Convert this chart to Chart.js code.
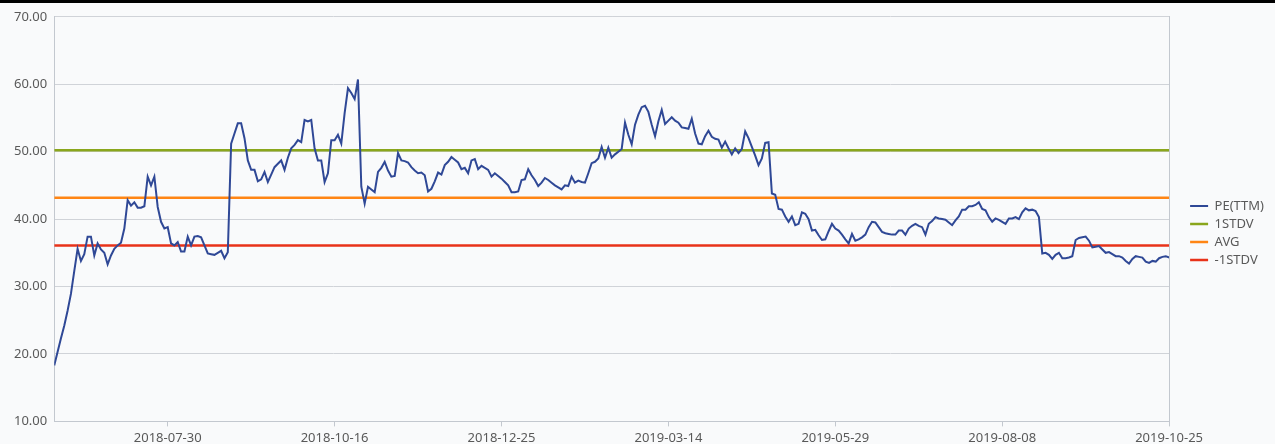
<!DOCTYPE html>
<html>
<head>
<meta charset="utf-8">
<script src="https://cdn.jsdelivr.net/npm/chart.js@4.4.1/dist/chart.umd.min.js"></script>
<style>
  html, body { margin: 0; padding: 0; background: #f9fafb; overflow: hidden; }
  #wrap { position: relative; width: 1275px; height: 444px; overflow: hidden; }
  #myChart { display: block; margin-top: 2px; }
  #topbar { position: absolute; left: 0; top: 0; width: 1275px; height: 3px; background: #000; }
</style>
</head>
<body>
<div id="wrap">
  <canvas id="myChart" width="1275" height="448"></canvas>
  <div id="topbar"></div>
</div>
<script>
// PE(TTM), one value per trading day, 2018-06-11 .. 2019-10-25
const peTTM = [
  18.3, 20.3, 22.3, 24.2, 26.4, 28.9, 32.3, 35.6, 33.8, 34.8, 37.4, 37.4, 34.6, 36.4, 35.5, 35.0, 33.3, 34.6, 35.6, 36.1,
  36.5, 38.6, 42.8, 42.0, 42.5, 41.7, 41.7, 41.9, 46.3, 45.0, 46.3, 41.8, 39.6, 38.6, 38.8, 36.4, 36.1, 36.6, 35.2, 35.2,
  37.4, 36.1, 37.4, 37.5, 37.3, 36.1, 34.9, 34.8, 34.7, 35.0, 35.3, 34.2, 35.1, 51.2, 52.7, 54.2, 54.2, 52.0, 48.7, 47.3,
  47.3, 45.6, 45.9, 47.0, 45.5, 46.6, 47.7, 48.2, 48.7, 47.3, 49.1, 50.5, 51.0, 51.7, 51.4, 54.7, 54.5, 54.7, 50.5, 48.7,
  48.7, 45.5, 46.8, 51.7, 51.7, 52.5, 51.2, 55.7, 59.4, 58.7, 57.8, 60.7, 44.8, 42.3, 44.8, 44.4, 44.0, 47.0, 47.6, 48.5,
  47.2, 46.3, 46.4, 49.8, 48.7, 48.6, 48.4, 47.7, 47.2, 46.8, 46.9, 46.5, 44.1, 44.5, 45.6, 46.9, 46.6, 48.0, 48.5, 49.2,
  48.8, 48.4, 47.4, 47.6, 46.8, 48.7, 48.9, 47.4, 47.9, 47.6, 47.3, 46.3, 46.8, 46.4, 46.0, 45.5, 45.0, 44.0, 44.0, 44.1,
  45.8, 45.9, 47.4, 46.5, 45.8, 44.9, 45.4, 46.1, 45.8, 45.4, 45.0, 44.7, 44.4, 45.0, 44.9, 46.3, 45.4, 45.7, 45.5, 45.4,
  46.8, 48.3, 48.5, 49.0, 50.7, 49.1, 50.6, 49.1, 49.6, 50.0, 50.4, 54.3, 52.5, 51.1, 54.0, 55.5, 56.6, 56.8, 55.9, 54.0,
  52.3, 54.5, 56.2, 54.1, 54.6, 55.1, 54.6, 54.3, 53.6, 53.5, 53.4, 54.9, 52.7, 51.2, 51.1, 52.3, 53.1, 52.2, 51.9, 51.8,
  50.6, 51.5, 50.5, 49.6, 50.5, 49.8, 50.4, 53.0, 52.0, 50.7, 49.4, 48.0, 49.0, 51.3, 51.4, 43.8, 43.6, 41.5, 41.4, 40.4,
  39.6, 40.4, 39.1, 39.3, 41.0, 40.8, 40.0, 38.3, 38.4, 37.6, 36.9, 37.0, 38.2, 39.3, 38.6, 38.3, 37.7, 37.0, 36.4, 37.8,
  36.8, 37.0, 37.3, 37.7, 38.8, 39.6, 39.5, 38.8, 38.1, 37.9, 37.8, 37.7, 37.7, 38.3, 38.3, 37.7, 38.6, 39.0, 39.3, 39.0,
  38.8, 37.7, 39.3, 39.7, 40.3, 40.1, 40.0, 39.9, 39.5, 39.1, 39.8, 40.4, 41.4, 41.4, 41.9, 41.9, 42.1, 42.5, 41.5, 41.3,
  40.3, 39.6, 40.1, 39.9, 39.6, 39.3, 40.1, 40.1, 40.3, 40.0, 41.0, 41.6, 41.3, 41.4, 41.2, 40.3, 34.9, 35.0, 34.7, 34.1,
  34.7, 35.0, 34.2, 34.2, 34.3, 34.5, 36.9, 37.2, 37.3, 37.4, 36.8, 35.8, 35.9, 36.0, 35.5, 35.0, 35.1, 34.8, 34.5, 34.5,
  34.3, 33.8, 33.4, 34.1, 34.5, 34.4, 34.3, 33.7, 33.5, 33.8, 33.7, 34.2, 34.4, 34.5, 34.3
];

const stdUp = 50.22;
const avgPE = 43.15;
const stdDown = 36.08;

const tickIndex = [34, 84, 134, 184, 234, 284, 334];
const tickLabels = ['2018-07-30', '2018-10-16', '2018-12-25', '2019-03-14', '2019-05-29', '2019-08-08', '2019-10-25'];

const lastIdx = peTTM.length - 1;
const flat = v => [{x: 0, y: v}, {x: lastIdx, y: v}];

const textColor = '#595959';
const gridColor = '#d0d3d8';
const axisColor = '#c3c8cf';

const myChart = document.getElementById('myChart').getContext('2d');

const peChart = new Chart(myChart, {
    type: 'line',
    data: {
        datasets: [
            {
                label: 'PE(TTM)',
                data: peTTM.map((v, i) => ({x: i, y: v})),
                borderColor: 'rgb(47, 72, 150)',
                backgroundColor: 'rgb(47, 72, 150)',
                borderWidth: 2,
                pointRadius: 0,
                tension: 0,
                order: 0
            },
            {
                label: '1STDV',
                data: flat(stdUp),
                borderColor: 'rgb(138, 166, 28)',
                backgroundColor: 'rgb(138, 166, 28)',
                borderWidth: 2.5,
                pointRadius: 0,
                order: 1
            },
            {
                label: 'AVG',
                data: flat(avgPE),
                borderColor: 'rgb(255, 133, 20)',
                backgroundColor: 'rgb(255, 133, 20)',
                borderWidth: 2.5,
                pointRadius: 0,
                order: 1
            },
            {
                label: '-1STDV',
                data: flat(stdDown),
                borderColor: 'rgb(232, 50, 25)',
                backgroundColor: 'rgb(232, 50, 25)',
                borderWidth: 2.5,
                pointRadius: 0,
                order: 1
            }
        ]
    },
    options: {
        responsive: false,
        animation: false,
        layout: { padding: { top: 14, left: 7, right: 1, bottom: 0 } },
        plugins: {
            tooltip: { enabled: false },
            legend: {
                position: 'right',
                maxWidth: 89,
                labels: {
                    usePointStyle: true,
                    pointStyle: 'line',
                    pointStyleWidth: 18,
                    padding: 5,
                    color: textColor,
                    font: { family: 'Noto Sans', size: 13 }
                }
            }
        },
        scales: {
            x: {
                type: 'linear',
                min: 0,
                max: lastIdx,
                afterBuildTicks: scale => { scale.ticks = tickIndex.map(v => ({value: v})); },
                ticks: {
                    autoSkip: false,
                    maxRotation: 0,
                    padding: 4,
                    color: textColor,
                    font: { family: 'Noto Sans', size: 13 },
                    callback: value => tickLabels[tickIndex.indexOf(value)]
                },
                grid: { drawOnChartArea: false, drawTicks: true, tickLength: 5, color: axisColor },
                border: { color: axisColor }
            },
            y: {
                min: 10,
                max: 70,
                ticks: {
                    stepSize: 10,
                    padding: 7,
                    color: textColor,
                    font: { family: 'Noto Sans', size: 13 },
                    callback: v => v.toFixed(2)
                },
                grid: { color: gridColor, drawTicks: false },
                border: { color: axisColor }
            },
            y2: {
                position: 'right',
                min: 10,
                max: 70,
                ticks: { display: false },
                grid: { drawOnChartArea: false, drawTicks: false },
                border: { color: axisColor },
                afterFit: scale => { scale.width = 16; }
            }
        }
    }
});
</script>
</body>
</html>
